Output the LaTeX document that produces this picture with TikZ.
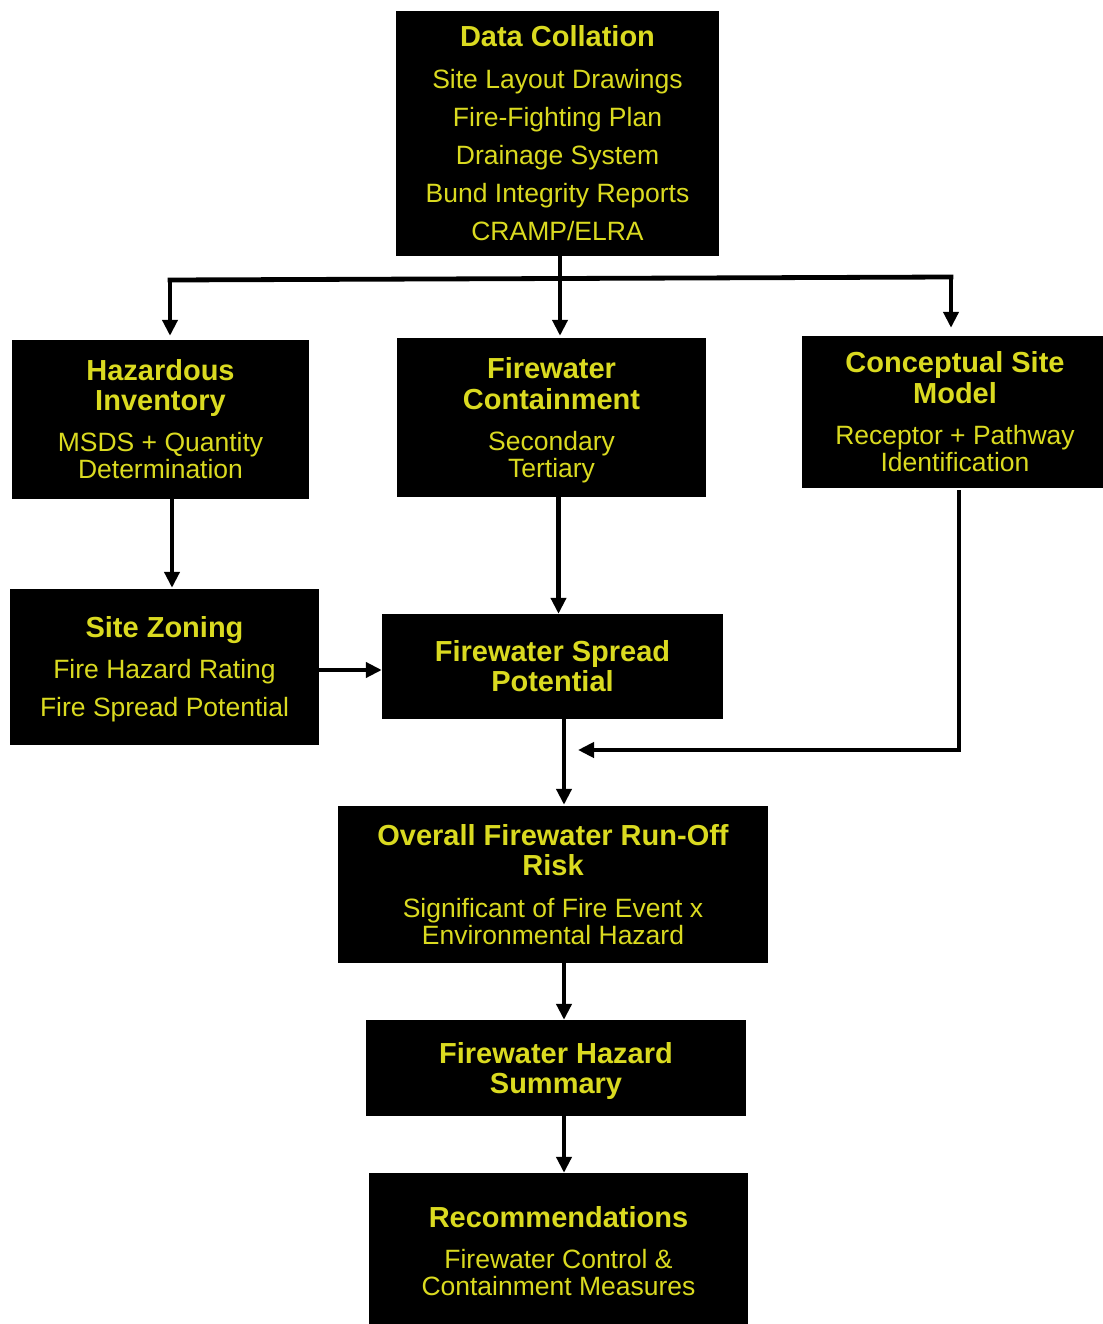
\documentclass[tikz,border=0pt]{standalone}
\usepackage{fontspec}
\setmainfont{Liberation Sans}
\usetikzlibrary{arrows.meta}
\definecolor{txt}{RGB}{218,218,32}
\newcommand\bodyfnt{\fontsize{26.5}{27}\selectfont\lineskiplimit=-100pt\relax}
\newcommand\ttl{\fontsize{29}{30}\selectfont\bfseries}
\newcommand\topstrut{\rule{0pt}{26pt}}
\begin{document}
\begin{tikzpicture}[x=1pt,y=-1pt,
  box/.style={fill=black, draw=none, inner sep=0pt, text=txt, align=center, font=\bodyfnt},
  arr/.style={line width=4.8pt, -{Triangle[width=15pt,length=16pt]}},
  ln/.style={line width=4.8pt, line cap=rect}]
\useasboundingbox (0,0) rectangle (1102,1324);
\fill[white] (0,0) rectangle (1102,1324);

% boxes
\node[box, minimum width=323pt, minimum height=245pt] (dc) at (557.5,133.5)
  {{\ttl Data Collation}\\[15pt]Site Layout Drawings\\[11pt]Fire-Fighting Plan\\[11pt]Drainage System\\[11pt]Bund Integrity Reports\\[11pt]CRAMP/ELRA};
\node[box, minimum width=297pt, minimum height=159pt] (hi) at (160.5,419.5)
  {{\ttl Hazardous}\\[3pt]{\ttl Inventory}\\[14pt]MSDS + Quantity\\Determination};
\node[box, minimum width=309pt, minimum height=159pt] (fc) at (551.5,417.5)
  {{\ttl\topstrut Firewater}\\[4pt]{\ttl Containment}\\[14pt]Secondary\\Tertiary};
\node[box, minimum width=306pt, minimum height=152pt] (csm) at (955,412)
  {{\ttl Conceptual Site}\\[4pt]{\ttl Model}\\[14pt]Receptor + Pathway\\Identification};
\node[box, minimum width=309pt, minimum height=156pt] (sz) at (164.5,667)
  {{\ttl\topstrut Site Zoning}\\[14pt]Fire Hazard Rating\\[11pt]Fire Spread Potential};
\node[box, minimum width=341pt, minimum height=105pt] (sp) at (552.5,666.5)
  {{\ttl Firewater Spread}\\[3pt]{\ttl Potential}};
\node[box, minimum width=430pt, minimum height=157pt] (ov) at (553,884.5)
  {{\ttl Overall Firewater Run-Off}\\[3pt]{\ttl Risk}\\[15pt]Significant of Fire Event x\\Environmental Hazard};
\node[box, minimum width=380pt, minimum height=96pt] (sum) at (556,1068)
  {{\ttl\topstrut Firewater Hazard}\\[3pt]{\ttl Summary}};
\node[box, minimum width=379pt, minimum height=156pt] (rec) at (558.5,1251)
  {{\ttl Recommendations}\\[14pt]Firewater Control \&\\Containment Measures};

% connectors
\coordinate (dcout) at ([xshift=2.5pt]dc.south);
\coordinate (jl) at (170,280);
\coordinate (jr) at (951,277);
\draw[ln] (jl) -- (jr);
\draw[arr, shorten >=2pt] (dcout) -- (dcout |- fc.north);
\draw[arr, shorten >=4pt] (jl) -- (jl |- hi.north);
\draw[arr, shorten >=8pt] (jr) -- (jr |- csm.north);

\coordinate (hiout) at ([xshift=11.5pt]hi.south);
\draw[arr, shorten >=1pt] (hiout) -- (hiout |- sz.north);
\coordinate (fcout) at ([xshift=7pt]fc.south);
\draw[arr] (fcout) -- (fcout |- sp.north);
\coordinate (szout) at ([yshift=-3pt]sz.east);
\draw[arr] (szout) -- (szout -| sp.west);

\coordinate (csmout) at ([xshift=4pt,yshift=-2pt]csm.south);
\coordinate (mrg) at (578,750);
\draw[arr] (csmout) -- (csmout |- mrg) -- (mrg);

\coordinate (spout) at ([xshift=11.5pt]sp.south);
\draw[arr, shorten >=1pt] (spout) -- (spout |- ov.north);
\coordinate (ovout) at ([xshift=11pt]ov.south);
\draw[arr] (ovout) -- (ovout |- sum.north);
\coordinate (sumout) at ([xshift=8pt]sum.south);
\draw[arr] (sumout) -- (sumout |- rec.north);
\end{tikzpicture}
\end{document}
